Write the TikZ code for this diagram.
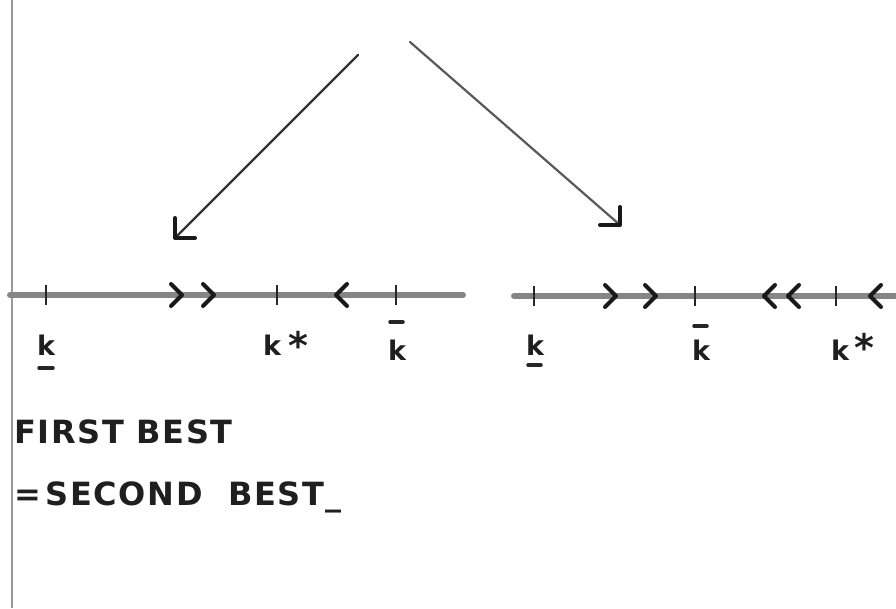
\documentclass[tikz,border=0pt]{standalone}
\usepackage{fontspec}
\setmainfont{DejaVu Sans}
\begin{document}
\begin{tikzpicture}[x=1pt,y=-1pt,
  axisline/.style={line width=6pt,draw=black!48,line cap=round},
  tickmark/.style={line width=2.2pt,draw=black!85},
  chevR/.style={line width=4pt,draw=black!90,line cap=round,line join=round},
  slant/.style={line width=2.2pt,draw=black!80,line cap=round},
  barb/.style={line width=4pt,draw=black!90,line cap=round,line join=round},
  lbl/.style={font=\fontsize{27}{30}\selectfont\bfseries,text=black!88,inner sep=0pt},
  star/.style={font=\fontsize{38}{40}\selectfont\bfseries,text=black!88,inner sep=0pt},
  bigtext/.style={font=\fontsize{32}{35}\selectfont\bfseries\addfontfeatures{LetterSpace=5},text=black!88,inner sep=0pt,anchor=west},
  barline/.style={line width=3.5pt,draw=black!85,line cap=round}]
\useasboundingbox (0,0) rectangle (896,608);
\fill[white] (0,0) rectangle (896,608);
% page edge
\draw[black!40,line width=1.5pt] (12,0) -- (12,608);
% top arrows
\coordinate (lstart) at (358,55);
\coordinate (lend) at (175,238);
\coordinate (rstart) at (410,42);
\coordinate (rend) at (620,225);
\draw[slant] (lstart) -- (lend);
\draw[barb] ([yshift=20pt]lend) -- (lend) -- ([xshift=20pt]lend);
\draw[slant,draw=black!65] (rstart) -- (rend);
\draw[barb] ([yshift=18pt]rend) -- (rend) -- ([xshift=-20pt]rend);
% left axis
\coordinate (la) at (10,295);
\coordinate (lb) at (463,295);
\draw[axisline] (la) -- (lb);
\foreach \x in {46,277,396} \draw[tickmark] (\x,285) -- (\x,305);
\foreach \x in {180,212} \draw[chevR] (\x-9,284) -- (\x+2,295) -- (\x-9,306);
\foreach \x in {338} \draw[chevR] (\x+9,284) -- (\x-2,295) -- (\x+9,306);
% right axis
\coordinate (ra) at (514,296);
\coordinate (rb) at (900,296);
\draw[axisline] (ra) -- (rb);
\foreach \x in {534,695,836} \draw[tickmark] (\x,286) -- (\x,306);
\foreach \x in {614,654} \draw[chevR] (\x-9,285) -- (\x+2,296) -- (\x-9,307);
\foreach \x in {766,790,872} \draw[chevR] (\x+9,285) -- (\x-2,296) -- (\x+9,307);
% labels left
\node[lbl] (k1) at (46,345) {k};
\draw[barline] (39,368) -- (53,368);
\node[lbl] (k2) at (272,345) {k};
\node[star] (s2) at (298,345) {*};
\node[lbl] (k3) at (397,350) {k};
\draw[barline] (390,322) -- (403,322);
% labels right
\node[lbl] (k4) at (535,345) {k};
\draw[barline] (528,365) -- (541,365);
\node[lbl] (k5) at (701,350) {k};
\draw[barline] (694,326) -- (707,326);
\node[lbl] (k6) at (840,350) {k};
\node[star] (s6) at (864,347) {*};
% text
\node[bigtext] (t1) at (14,432) {FIRST BEST};
\node[bigtext] (t2) at (14,497) {=\hspace{0.15em}SECOND\hspace{0.8em}BEST\_};
\end{tikzpicture}
\end{document}
